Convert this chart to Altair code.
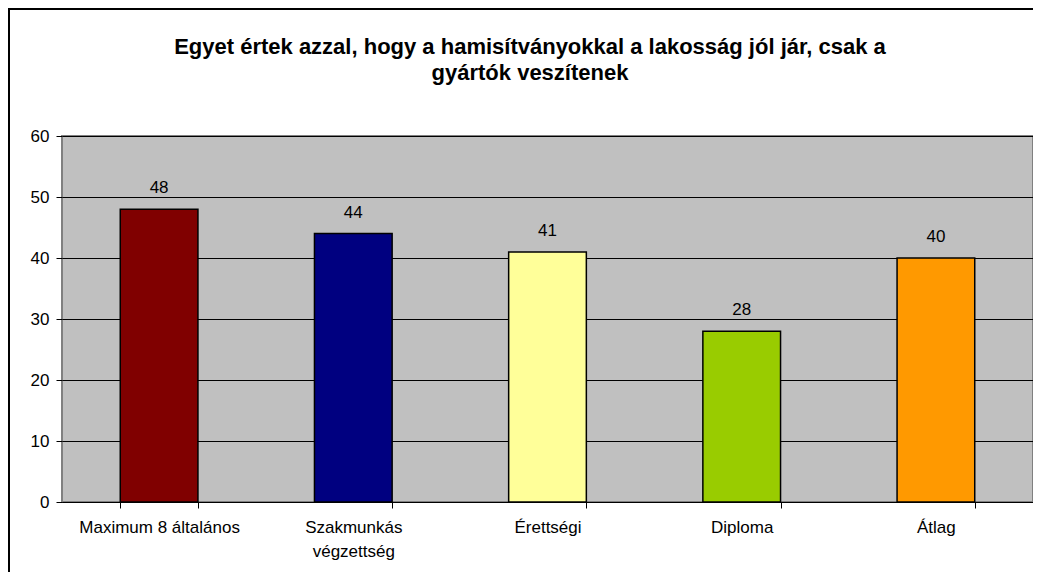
import altair as alt
import pandas as pd

categories = ["Maximum 8 általános", "Szakmunkás végzettség", "Érettségi", "Diploma", "Átlag"]
values = [48, 44, 41, 28, 40]
colors = ["#800000", "#000080", "#FFFF99", "#99CC00", "#FF9900"]
title_lines = ["Egyet értek azzal, hogy a hamisítványokkal a lakosság jól jár, csak a",
               "gyártók veszítenek"]

df = pd.DataFrame({"cat": categories, "val": values})
FONT = "Liberation Sans"

x = alt.X("cat:N", sort=categories, title=None,
          scale=alt.Scale(paddingInner=0.6, paddingOuter=0.3),
          axis=alt.Axis(labelAngle=0, tickBand="extent", domainColor="black",
                        tickColor="black", tickSize=6, labelColor="black",
                        labelFont=FONT, labelFontSize=17, labelPadding=11,
                        labelLineHeight=24, labelBaseline="top",
                        labelExpr="datum.label == 'Szakmunkás végzettség' ? ['Szakmunkás', 'végzettség'] : datum.label"))
y = alt.Y("val:Q", title=None,
          scale=alt.Scale(domain=[0, 60]),
          axis=alt.Axis(values=[0, 10, 20, 30, 40, 50, 60], domain=False,
                        tickColor="black", tickSize=6, labelColor="black",
                        labelFont=FONT, labelFontSize=17, labelPadding=7,
                        grid=True, gridColor="black", gridWidth=1))

base = alt.Chart(df)
bars = base.mark_bar(stroke="black", strokeWidth=1.5).encode(
    x=x, y=y,
    color=alt.Color("cat:N", sort=categories,
                    scale=alt.Scale(domain=categories, range=colors), legend=None),
)
labels = base.mark_text(dy=-16, baseline="alphabetic", font=FONT, fontSize=17,
                        color="black").encode(
    x=alt.X("cat:N", sort=categories), y="val:Q", text="val:Q")

t1 = alt.Chart(pd.DataFrame({"t": [title_lines[0]]})).mark_text(
    font=FONT, fontSize=22, fontWeight="bold", align="center",
    baseline="alphabetic", color="black").encode(
    x=alt.value(468), y=alt.value(-82), text="t:N")
t2 = alt.Chart(pd.DataFrame({"t": [title_lines[1]]})).mark_text(
    font=FONT, fontSize=22, fontWeight="bold", align="center",
    baseline="alphabetic", color="black").encode(
    x=alt.value(468), y=alt.value(-56), text="t:N")

one = pd.DataFrame({"k": [0]})
border_left = alt.Chart(one).mark_rule(color="black", strokeWidth=2).encode(
    x=alt.value(-53), y=alt.value(-128), y2=alt.value(700))
border_top = alt.Chart(one).mark_rule(color="black", strokeWidth=2).encode(
    y=alt.value(-127), x=alt.value(-60), x2=alt.value(1100))

chart = alt.layer(bars, labels, t1, t2, border_left, border_top).properties(
    width=971, height=366,
    autosize=alt.AutoSizeParams(type="none"),
    padding={"left": 54, "top": 128, "right": 0, "bottom": 70},
    background="white",
).configure_view(
    fill="#C0C0C0", stroke="#808080", strokeWidth=2
)

chart.save("out.html", embed_options={"renderer": "svg", "actions": False})
